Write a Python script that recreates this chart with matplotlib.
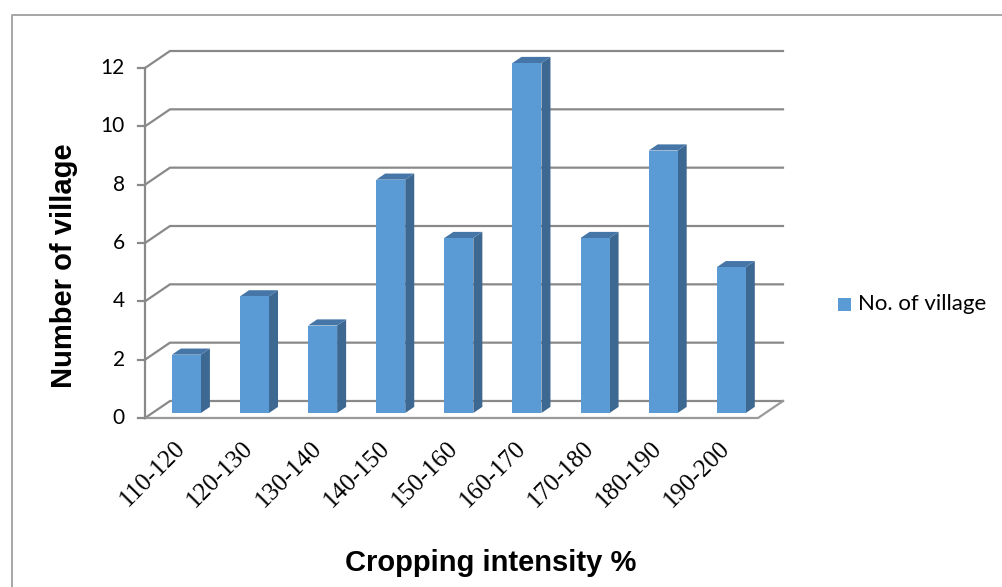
import matplotlib
matplotlib.use("Agg")
import matplotlib.pyplot as plt
from matplotlib.patches import Polygon, Rectangle
from matplotlib.lines import Line2D

categories = ["110-120", "120-130", "130-140", "140-150", "150-160",
              "160-170", "170-180", "180-190", "190-200"]
values = [2, 4, 3, 8, 6, 12, 6, 9, 5]
yticks = [0, 2, 4, 6, 8, 10, 12]
series_name = "No. of village"
xlabel = "Cropping intensity %"
ylabel = "Number of village"

W, H = 1002, 587
fig = plt.figure(figsize=(W / 100, H / 100), dpi=100)

# front-plane axes: x = category index, y = value
L, R, B0, T12 = 145, 758, 418, 68
ax = fig.add_axes([L / W, (H - B0) / H, (R - L) / W, (B0 - T12) / H])
n = len(categories)
ax.set_xlim(-0.5, n - 0.5)
ax.set_ylim(0, 12)
ax.axis("off")

px_x = (R - L) / n          # pixels per category
px_y = (B0 - T12) / 12      # pixels per unit
DX = 25 / px_x              # depth offset in data units
DY = 17 / px_y

def P(x, v, d):
    return (x + d * DX, v + d * DY)

grid_c = "#898989"
glw = 1.6
x0, x1 = -0.5, n - 0.5
for v in yticks:
    pts = [P(x0, v, 0), P(x0, v, 1), P(x1, v, 1)]
    ax.add_line(Line2D([p[0] for p in pts], [p[1] for p in pts],
                       color=grid_c, lw=glw, clip_on=False, zorder=1,
                       solid_joinstyle="miter"))
    tk = [P(x0 - 7 / px_x, v, 0), P(x0, v, 0)]
    ax.add_line(Line2D([p[0] for p in tk], [p[1] for p in tk],
                       color=grid_c, lw=glw, clip_on=False, zorder=1))
    ax.text(x0 - 20 / px_x, v, str(v), ha="right", va="center",
            fontsize=15, family="Lato", color="black")

# floor front + right edges
fl = [P(x0, 0, 0), P(x1, 0, 0), P(x1, 0, 1)]
ax.add_line(Line2D([p[0] for p in fl], [p[1] for p in fl], color="#9a9a9a",
                   lw=glw, clip_on=False, zorder=1))
# vertical axis
va_ = [P(x0, 0, 0), P(x0, 12, 0)]
ax.add_line(Line2D([p[0] for p in va_], [p[1] for p in va_], color=grid_c,
                   lw=glw, clip_on=False, zorder=1))

front_c, side_c, top_c = "#5B9BD5", "#3C6892", "#4676A8"
hw = 29 / px_x / 2
d0 = 5 / 17
d1 = d0 + 9 / 25
for i, v in enumerate(values):
    c = i
    front = [P(c - hw, 0, d0), P(c + hw, 0, d0), P(c + hw, v, d0), P(c - hw, v, d0)]
    side = [P(c + hw, 0, d0), P(c + hw, 0, d1), P(c + hw, v, d1), P(c + hw, v, d0)]
    top = [P(c - hw, v, d0), P(c + hw, v, d0), P(c + hw, v, d1), P(c - hw, v, d1)]
    for poly, col in ((side, side_c), (top, top_c), (front, front_c)):
        ax.add_patch(Polygon(poly, closed=True, facecolor=col, edgecolor="none",
                             clip_on=False, zorder=3))
    ax.text(c - 5 / px_x, -19 / px_y, categories[i], rotation=45,
            rotation_mode="anchor", ha="right", va="top",
            fontsize=18, family="Liberation Serif", color="black")

# axis titles
fig.text(64 / W, 1 - 266 / H, ylabel, rotation=90, ha="center", va="center",
         fontsize=21, fontweight="bold", family="Liberation Sans")
fig.text(491 / W, 1 - 563 / H, xlabel, ha="center", va="center",
         fontsize=21, fontweight="bold", family="Liberation Sans")

# legend
fig.patches.append(Rectangle((838 / W, 1 - 311 / H), 13 / W, 13 / H,
                             transform=fig.transFigure, facecolor=front_c,
                             edgecolor="none"))
fig.text(858 / W, 1 - 304 / H, series_name, ha="left", va="center",
         fontsize=16, family="Lato", color="black")

# chart-area border
fig.add_artist(Line2D([12 / W, 12 / W, 1.0], [0, 1 - 15 / H, 1 - 15 / H],
                      transform=fig.transFigure, color="#a6a6a6", lw=1.4))

fig.savefig("out.png", dpi=100, facecolor="white")
